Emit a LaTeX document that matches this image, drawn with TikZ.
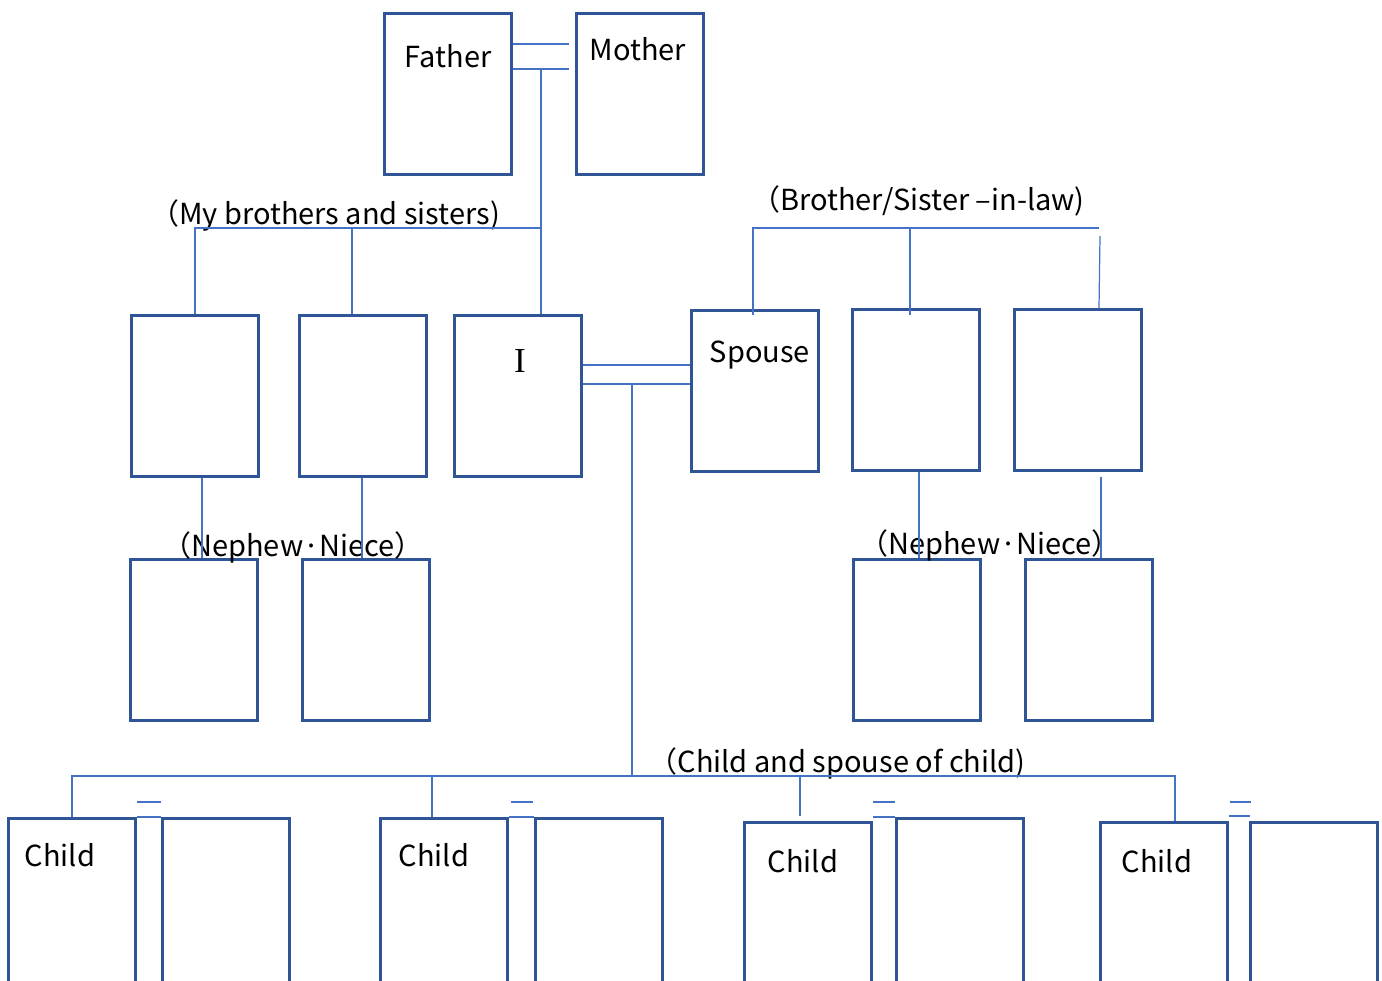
\documentclass[tikz,border=0pt]{standalone}
\usepackage{fontspec}
\setmainfont{Noto Sans CJK JP}
\newfontfamily\serifI{Liberation Serif}
\usepackage{tikz}
\definecolor{boxblue}{HTML}{2F5597}
\definecolor{lineblue}{HTML}{4472C4}

\begin{document}
\begin{tikzpicture}[x=0.02cm,y=-0.02cm,
        person/.style={draw=boxblue, line width=1.5pt, minimum width=2.55cm, minimum height=3.23cm, inner sep=0pt},
        kid/.style={person, anchor=north, minimum height=3.6cm},
        link/.style={draw=lineblue, line width=0.7pt},
        tag/.style={font=\fontsize{16.5}{18}\selectfont, inner sep=0pt}]
        \useasboundingbox (0,0) rectangle (1382,980);

        % parents
        \node[person] (Father) at (448,94) {};
        \node[person] (Mother) at (640,94) {};
        \node[tag] (FatherTag) at (448,56) {Father};
        \node[tag] (MotherTag) at (638,49) {Mother};

        % my generation
        \node[person] (Sib1) at (195,396) {};
        \node[person] (Sib2) at (363,396) {};
        \node[person] (Me) at (518,396) {};
        \node[person] (Spouse) at (755,391) {};
        \node[person] (InLaw1) at (916,390) {};
        \node[person] (InLaw2) at (1078,390) {};
        \node[font=\serifI\fontsize{20}{22}\selectfont, inner sep=0pt] (MeTag) at (520,361) {I};
        \node[tag] (SpouseTag) at (760,355) {Spouse};
        \node[tag] (SibTag) at (325,215) {（My brothers and sisters)};
        \node[tag] (InLawTag) at (918,201) {（Brother/Sister –in-law)};

        % nephews and nieces
        \node[person] (Nep1) at (194,640) {};
        \node[person] (Nep2) at (366,640) {};
        \node[person] (Nep3) at (917,640) {};
        \node[person] (Nep4) at (1089,640) {};
        \node[tag] (NepTagL) at (293,547) {（Nephew·Niece）};
        \node[tag] (NepTagR) at (990,545) {（Nephew·Niece）};

        % children and their spouses
        \node[kid] (Child1) at (72,817) {};
        \node[kid] (ChildSp1) at (226,817) {};
        \node[kid] (Child2) at (444,817) {};
        \node[kid] (ChildSp2) at (599,817) {};
        \node[kid] (Child3) at (808,821) {};
        \node[kid] (ChildSp3) at (960,817) {};
        \node[kid] (Child4) at (1164,821) {};
        \node[kid] (ChildSp4) at (1314,821) {};
        \node[tag] (ChildTag1) at (60,855) {Child};
        \node[tag] (ChildTag2) at (434,855) {Child};
        \node[tag] (ChildTag3) at (803,861) {Child};
        \node[tag] (ChildTag4) at (1157,861) {Child};
        \node[tag] (KidTag) at (837,763) {（Child and spouse of child)};

        % parents' marriage and their children
        \coordinate (FM1) at (569,44);
        \coordinate (FM2) at (569,69);
        \coordinate (FMDrop) at (541,69);
        \coordinate (SibBar) at (195,228);
        \coordinate (Sib2Top) at (352,228);
        \draw[link] (Father.east |- FM1) -- (FM1);
        \draw[link] (Father.east |- FM2) -- (FM2);
        \draw[link] (FMDrop) -- (FMDrop |- Me.north);
        \draw[link] (Sib1.north) -- (SibBar) -- (FMDrop |- SibBar);
        \draw[link] (Sib2Top) -- (Sib2Top |- Sib2.north);

        % my marriage
        \coordinate (MS1) at (632,365);
        \coordinate (MS2) at (632,384);
        \draw[link] (Me.east |- MS1) -- (Spouse.west |- MS1);
        \draw[link] (Me.east |- MS2) -- (Spouse.west |- MS2);

        % spouse's brothers and sisters
        \coordinate (LawBar) at (753,228);
        \coordinate (LawEnd) at (1099,228);
        \coordinate (Law2Top) at (910,228);
        \coordinate (Law3Top) at (1100,236);
        \draw[link] (LawBar |- Spouse.north) ++(0,6) -- (LawBar) -- (LawEnd);
        \draw[link] (Law2Top) -- ++(0,87);
        \draw[link] (Law3Top) -- (InLaw2.north -| 1099,0);

        % nephews and nieces
        \coordinate (NepL1) at (202,478);
        \coordinate (NepL2) at (362,478);
        \coordinate (NepR1) at (919,472);
        \coordinate (NepR2) at (1101,477);
        \draw[link] (NepL1) -- (NepL1 |- Nep1.north);
        \draw[link] (NepL2) -- (NepL2 |- Nep2.north);
        \draw[link] (NepR1) -- (NepR1 |- Nep3.north);
        \draw[link] (NepR2) -- (NepR2 |- Nep4.north);

        % my children
        \coordinate (KidBar) at (72,776);
        \coordinate (KidDrop2) at (432,776);
        \coordinate (KidDrop3) at (800,776);
        \coordinate (KidDrop4) at (1175,776);
        \draw[link] (MS2) -- (MS2 |- KidBar);
        \draw[link] (Child1.north) -- (KidBar) -- (KidDrop4) -- (KidDrop4 |- Child4.north);
        \draw[link] (KidDrop2) -- (KidDrop2 |- Child2.north);
        \draw[link] (KidDrop3) -- ++(0,40);

        % children's marriages
        \coordinate (Dash1) at (137,802);
        \coordinate (Dash2) at (511,802);
        \coordinate (Dash3) at (873,802);
        \coordinate (Dash4) at (1230,802);
        \draw[link] (Dash1) -- ++(24,0);
        \draw[link] (Dash2) -- ++(22,0);
        \draw[link] (Dash3) -- ++(22,0);
        \draw[link] (Dash4) -- ++(21,0);
        \draw[link] (Child1.north east) -- (ChildSp1.north west);
        \draw[link] (Child2.north east) -- (ChildSp2.north west);
        \draw[link] (Child3.east |- ChildSp3.north) -- (ChildSp3.north west);
        \draw[link] (Child4.east |- Dash4) ++(0,14) -- ++(21,0);
\end{tikzpicture}
\end{document}
